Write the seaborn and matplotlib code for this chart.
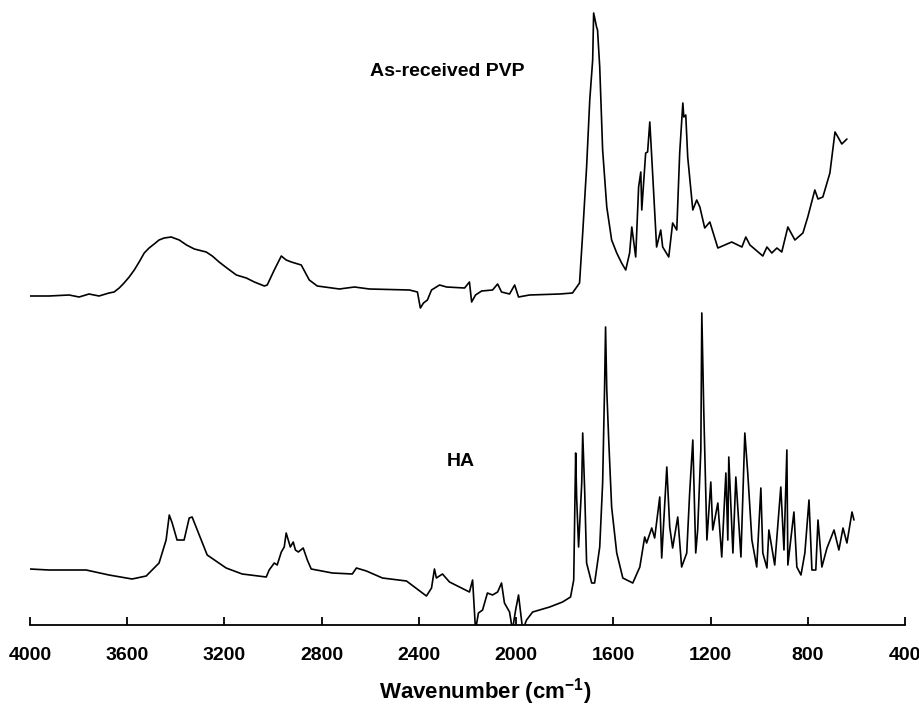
import numpy as np
import pandas as pd
import matplotlib
matplotlib.use("Agg")
import matplotlib.pyplot as plt
import seaborn as sns

# --- spectra (wavenumber in cm-1, absorbance in a.u., offset stacked) ---
pvp_wn = [4000, 3922, 3839, 3798, 3757, 3716, 3675, 3654, 3633, 3613, 3592, 3571, 3551, 3530,
          3510, 3489, 3469, 3448, 3419, 3386, 3356, 3324, 3275, 3250, 3222, 3190, 3151, 3110,
          3077, 3036, 3024, 2995, 2966, 2946, 2925, 2884, 2851, 2818, 2727, 2665,
          2604, 2439, 2406, 2394, 2381, 2365, 2348, 2315, 2286, 2212, 2192, 2183, 2167, 2142,
          2097, 2076, 2060, 2027, 2006, 1990, 1945, 1821, 1768, 1739, 1726, 1710, 1697, 1685,
          1681, 1669, 1665, 1656, 1644, 1627, 1607, 1586, 1566, 1549, 1533, 1524, 1508, 1496,
          1487, 1483, 1467, 1459, 1450, 1442, 1422, 1405, 1397, 1372, 1356, 1339, 1327, 1314,
          1310, 1302, 1294, 1273, 1257, 1244, 1224, 1203, 1170, 1113, 1071, 1055, 1038, 985,
          968, 948, 927, 907, 882, 853, 820, 800, 771, 758, 738, 709, 688, 676, 660, 639]
pvp_abs = [3.29, 3.29, 3.30, 3.28, 3.31, 3.29, 3.32, 3.33, 3.37, 3.42, 3.48, 3.55, 3.63, 3.72,
           3.77, 3.81, 3.85, 3.87, 3.88, 3.85, 3.80, 3.76, 3.73, 3.69, 3.63, 3.57, 3.50, 3.47,
           3.43, 3.39, 3.40, 3.55, 3.69, 3.65, 3.63, 3.60, 3.45, 3.39, 3.36, 3.38,
           3.36, 3.35, 3.33, 3.17, 3.22, 3.25, 3.35, 3.40, 3.38, 3.37, 3.43, 3.23, 3.30, 3.34,
           3.35, 3.41, 3.33, 3.31, 3.40, 3.28, 3.30, 3.31, 3.32, 3.42, 3.92, 4.58, 5.25, 5.65,
           6.12, 5.98, 5.95, 5.58, 4.75, 4.18, 3.85, 3.72, 3.62, 3.55, 3.72, 3.98, 3.68, 4.38,
           4.53, 4.15, 4.72, 4.73, 5.03, 4.68, 3.78, 3.95, 3.78, 3.68, 4.02, 3.95, 4.72, 5.22,
           5.08, 5.10, 4.68, 4.15, 4.25, 4.18, 3.97, 4.03, 3.77, 3.83, 3.78, 3.88, 3.80, 3.69,
           3.78, 3.72, 3.77, 3.73, 3.98, 3.85, 3.92, 4.08, 4.35, 4.26, 4.28, 4.52, 4.93, 4.88,
           4.81, 4.86]

ha_wn = [4000, 3922, 3769, 3675, 3580, 3522, 3469, 3440, 3427, 3415, 3395, 3366, 3345, 3333,
         3312, 3271, 3193, 3127, 3028, 3016, 2995, 2983, 2966, 2954, 2946, 2929, 2917, 2908,
         2896, 2876, 2859, 2843, 2756, 2674, 2657, 2616, 2550, 2451, 2369, 2348, 2336, 2328,
         2303, 2274, 2233, 2192, 2179, 2167, 2155, 2138, 2118, 2097, 2076, 2060, 2048, 2027,
         2015, 2002, 1990, 1973, 1957, 1932, 1862, 1809, 1776, 1763, 1755, 1751, 1743, 1730,
         1726, 1718, 1710, 1689, 1677, 1656, 1644, 1636, 1632, 1627, 1619, 1607, 1586, 1561,
         1520, 1491, 1471, 1463, 1442, 1430, 1409, 1401, 1380, 1368, 1356, 1335, 1319, 1298,
         1286, 1273, 1261, 1253, 1240, 1236, 1228, 1215, 1199, 1191, 1170, 1154, 1137, 1129,
         1125, 1108, 1096, 1075, 1059, 1047, 1030, 1010, 993, 985, 968, 960, 936, 911, 898,
         886, 882, 857, 845, 828, 812, 795, 783, 767, 758, 742, 721, 692, 672, 655, 639, 618,
         610]
ha_abs = [0.56, 0.55, 0.55, 0.50, 0.46, 0.49, 0.62, 0.85, 1.10, 1.02, 0.85, 0.85, 1.07, 1.08,
          0.95, 0.70, 0.57, 0.51, 0.48, 0.55, 0.62, 0.60, 0.73, 0.78, 0.92, 0.78, 0.83, 0.75,
          0.73, 0.77, 0.65, 0.56, 0.52, 0.51, 0.57, 0.54, 0.47, 0.44, 0.29, 0.37, 0.56, 0.47,
          0.51, 0.43, 0.38, 0.33, 0.45, -0.05, 0.12, 0.15, 0.32, 0.30, 0.33, 0.42, 0.22, 0.13,
          -0.05, 0.15, 0.30, -0.05, 0.05, 0.13, 0.18, 0.23, 0.28, 0.45, 1.72, 1.28, 0.78, 1.42,
          1.92, 1.35, 0.62, 0.42, 0.42, 0.78, 1.42, 2.38, 2.98, 2.35, 1.85, 1.18, 0.72, 0.47,
          0.42, 0.58, 0.88, 0.82, 0.97, 0.87, 1.28, 0.67, 1.58, 0.98, 0.77, 1.08, 0.58, 0.72,
          1.32, 1.85, 0.72, 0.95, 1.75, 3.12, 2.15, 0.85, 1.43, 0.95, 1.22, 0.68, 1.52, 0.85,
          1.68, 0.72, 1.48, 0.68, 1.92, 1.52, 0.85, 0.58, 1.37, 0.72, 0.57, 0.95, 0.60, 1.38,
          0.75, 1.75, 0.60, 1.13, 0.58, 0.50, 0.72, 1.25, 0.55, 0.55, 1.05, 0.58, 0.77, 0.95,
          0.75, 0.97, 0.82, 1.13, 1.05]

x_ticks = [4000, 3600, 3200, 2800, 2400, 2000, 1600, 1200, 800, 400]

pvp = pd.DataFrame({"wavenumber": pvp_wn, "absorbance": pvp_abs})
ha = pd.DataFrame({"wavenumber": ha_wn, "absorbance": ha_abs})

sns.set_theme(style="white")
plt.rcParams["font.family"] = ["Liberation Sans", "DejaVu Sans"]
plt.rcParams["font.weight"] = "bold"
plt.rcParams["text.color"] = "black"
plt.rcParams["xtick.color"] = "black"
plt.rcParams["mathtext.fontset"] = "custom"
plt.rcParams["mathtext.bf"] = "Liberation Sans:bold"
plt.rcParams["mathtext.rm"] = "Liberation Sans:bold"

fig = plt.figure(figsize=(9.2, 7.09), dpi=100)
ax = fig.add_axes([30 / 920, 84 / 709, 875 / 920, 620 / 709])

sns.lineplot(data=pvp, x="wavenumber", y="absorbance", ax=ax, color="black",
             lw=1.2, estimator=None)
sns.lineplot(data=ha, x="wavenumber", y="absorbance", ax=ax, color="black",
             lw=1.2, estimator=None)

ax.set_xlim(4000, 400)
ax.set_ylim(0, 6.2)
ax.set_xticks(x_ticks)
ax.set_xticklabels([str(t) for t in x_ticks], fontsize=14, fontweight="bold")
ax.set_yticks([])
ax.set_xlabel("")
ax.set_ylabel("")
for side in ["left", "right", "top"]:
    ax.spines[side].set_visible(False)
ax.spines["bottom"].set_color("black")
ax.spines["bottom"].set_linewidth(1.3)
ax.tick_params(axis="x", direction="in", length=6, width=1.3, color="black",
               labelcolor="black", pad=16, bottom=True)

ax.text(2600, 5.53, "As-received PVP", fontsize=14, fontweight="bold",
        color="black", ha="left", va="center")
ax.text(2287, 1.63, "HA", fontsize=14, fontweight="bold", color="black",
        ha="left", va="center")

fig.text(0.527, 0.024, r"Wavenumber (cm$^{\mathbf{-1}}$)", fontsize=16,
         fontweight="bold", color="black", ha="center", va="center")

fig.savefig("out.png", dpi=100)
